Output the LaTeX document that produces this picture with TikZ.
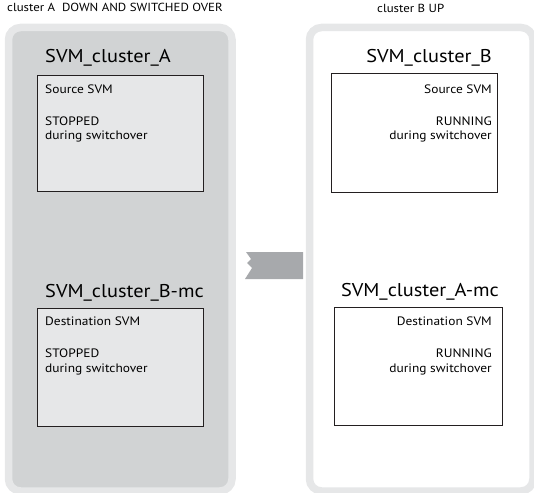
\documentclass[tikz,border=0pt]{standalone}
\usepackage{fontspec}
\setmainfont{PT Sans}[FakeStretch=1.1]
\definecolor{rim}{HTML}{E6E7E8}
\definecolor{downfill}{HTML}{D1D3D4}
\definecolor{boxfill}{HTML}{E6E7E8}
\definecolor{boxline}{HTML}{231F20}
\definecolor{arrowgray}{HTML}{A7A9AC}
\tikzset{
  panel/.style={draw=rim, line width=7.5pt, rounded corners=12pt, anchor=north west, inner sep=0pt},
  svmbox/.style={draw=boxline, line width=1.2pt, anchor=north west, inner sep=0pt},
  title/.style={font=\fontsize{18.5}{22}\selectfont, inner sep=0pt, text=black},
  body/.style={font=\fontsize{12.2}{14}\selectfont, inner sep=0pt, text=black},
  head/.style={font=\fontsize{11.7}{13}\selectfont, inner sep=0pt, text=black}
}
\begin{document}
\begin{tikzpicture}[x=1pt,y=-1pt]
\useasboundingbox (0,0) rectangle (534,492);
% panels
\node[panel, fill=downfill, minimum width=223.5pt, minimum height=463.5pt] (pA) at (4.75,23.75) {};
\node[panel, fill=white, minimum width=223.5pt, minimum height=463.5pt] (pB) at (305.75,23.75) {};
% headings
\node[head, anchor=base west] (hA) at (7,12) {cluster A\ \ DOWN AND SWITCHED OVER};
\node[head, anchor=base west] (hB) at (377,13) {cluster B UP};
% boxes
\node[svmbox, fill=boxfill, minimum width=166pt, minimum height=116pt] (bA1) at (37,75) {};
\node[svmbox, fill=boxfill, minimum width=166pt, minimum height=118pt] (bA2) at (37,308) {};
\node[svmbox, fill=white, minimum width=166pt, minimum height=119pt] (bB1) at (331,73) {};
\node[svmbox, fill=white, minimum width=168pt, minimum height=118pt] (bB2) at (334,307) {};
% titles
\node[title, anchor=base west] (tA1) at (45,63) {SVM\_cluster\_A};
\node[title, anchor=base east] (tB1) at (492,63) {SVM\_cluster\_B};
\node[title, anchor=base west] (tA2) at (45,297) {SVM\_cluster\_B-mc};
\node[title, anchor=base east] (tB2) at (499,296) {SVM\_cluster\_A-mc};
% texts left
\node[body, anchor=base west] (a1) at (45,93) {Source SVM};
\node[body, anchor=base west] (a2) at (45,125) {STOPPED};
\node[body, anchor=base west] (a3) at (45,139) {during switchover};
\node[body, anchor=base west] (c1) at (45,325) {Destination SVM};
\node[body, anchor=base west] (c2) at (45,357) {STOPPED};
\node[body, anchor=base west] (c3) at (45,372) {during switchover};
% texts right
\node[body, anchor=base east] (b1) at (492,93) {Source SVM};
\node[body, anchor=base east] (b2) at (492,125) {RUNNING};
\node[body, anchor=base east] (b3) at (492,139) {during switchover};
\node[body, anchor=base east] (d1) at (492,325) {Destination SVM};
\node[body, anchor=base east] (d2) at (492,357) {RUNNING};
\node[body, anchor=base east] (d3) at (492,372) {during switchover};
% switchover arrow
\fill[arrowgray] (246,252) -- (251,259) -- (247,263) -- (252,268) -- (245,279) -- (303,279) -- (303,252) -- cycle;
\end{tikzpicture}
\end{document}
